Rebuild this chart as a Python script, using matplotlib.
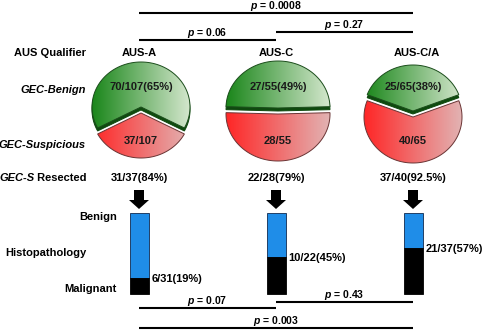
import matplotlib
matplotlib.use("Agg")
import matplotlib.pyplot as plt
import numpy as np
from matplotlib.patches import Polygon
from matplotlib.colors import LinearSegmentedColormap

plt.rcParams['font.family'] = ['Liberation Sans', 'DejaVu Sans']
plt.rcParams['mathtext.fontset'] = 'custom'
plt.rcParams['mathtext.bfit'] = 'Liberation Sans:italic:bold'
plt.rcParams['mathtext.rm'] = 'Liberation Sans:bold'

# data
groups = ["AUS-A", "AUS-C", "AUS-C/A"]
gec_total = [107, 55, 65]
gec_benign = [70, 27, 25]
gec_susp = [37, 28, 40]
benign_pct = ["65%", "49%", "38%"]
resected = [31, 22, 37]
resected_pct = ["84%", "79%", "92.5%"]
malignant = [6, 10, 21]
malignant_pct = ["19%", "45%", "57%"]
top_p = [("0.06", 0, 1), ("0.27", 1, 2), ("0.0008", 0, 2)]
bottom_p = [("0.07", 0, 1), ("0.43", 1, 2), ("0.003", 0, 2)]

# layout (pixel coordinates)
col_x = [139, 276, 413]
pie_cx = [141, 278, 413]
pie_cy = [110, 111, 114]
pie_rx = [49, 52, 49]
pie_ry = [45, 47, 46]
bar_top, bar_bot, bar_w = 213, 294, 19

green_cm = LinearSegmentedColormap.from_list("g", ["#1a861a", "#d4e7cd"])
red_cm = LinearSegmentedColormap.from_list("r", ["#ff2626", "#e2b3b3"])
FS = 8


def wedge(cx, cy, rx, ry, t1, t2):
    t = np.radians(np.linspace(t1, t2, 120))
    pts = np.column_stack([cx + rx * np.cos(t), cy - ry * np.sin(t)])
    return np.vstack([[cx, cy], pts])


def grad_wedge(ax, pts, cx, rx, cy, ry, cmap, edge):
    poly = Polygon(pts, closed=True, facecolor='none', edgecolor=edge, lw=0.7, zorder=3)
    ax.add_patch(poly)
    im = ax.imshow(np.linspace(0, 1, 256).reshape(1, -1), cmap=cmap, aspect='auto',
                   extent=(cx - rx, cx + rx, cy + ry + 8, cy - ry - 8), zorder=2)
    im.set_clip_path(poly)


fig = plt.figure(figsize=(4.82, 3.31), dpi=100, facecolor='white')
ax = fig.add_axes([0, 0, 1, 1])

for i in range(3):
    cx, cy, rx, ry = pie_cx[i], pie_cy[i], pie_rx[i], pie_ry[i]
    half = 180.0 * gec_benign[i] / gec_total[i]
    g1, g2 = 90 - half, 90 + half
    gy, ry_ = cy - 3, cy + 3
    # dark green thickness under the benign wedge
    ax.add_patch(Polygon(wedge(cx, gy + 3, rx, ry, g1, g2), closed=True,
                         facecolor='#0e4a0e', edgecolor='#0e4a0e', lw=0.7, zorder=1.5))
    grad_wedge(ax, wedge(cx, gy, rx, ry, g1, g2), cx, rx, gy, ry, green_cm, '#1b4d1b')
    grad_wedge(ax, wedge(cx, ry_, rx, ry, g2, g1 + 360), cx, rx, ry_, ry, red_cm, '#6a3434')
    ax.text(cx, 87, "%d/%d(%s)" % (gec_benign[i], gec_total[i], benign_pct[i]),
            ha='center', va='center', fontsize=FS, weight='bold', color='#1a1a1a', zorder=5)
    ax.text(cx, 141, "%d/%d" % (gec_susp[i], gec_total[i]),
            ha='center', va='center', fontsize=FS, weight='bold', color='#1a1a1a', zorder=5)

    ax.text(col_x[i] + (4 if i == 2 else 0), 52.5, groups[i], ha='center', va='center',
            fontsize=FS, weight='bold')
    ax.text(col_x[i], 178, "%d/%d(%s)" % (resected[i], gec_susp[i], resected_pct[i]),
            ha='center', va='center', fontsize=FS, weight='bold')

    # arrow
    ax.arrow(col_x[i], 190, 0, 19, width=10, head_width=20, head_length=9,
             length_includes_head=True, color='black', lw=0)

    # histopathology bar
    h = bar_bot - bar_top
    hm = h * malignant[i] / resected[i]
    ax.bar(col_x[i], h - hm, bottom=bar_top, width=bar_w, color='#1f8de8',
           edgecolor='#102a50', lw=0.6, zorder=3)
    ax.bar(col_x[i], hm, bottom=bar_bot - hm, width=bar_w, color='black',
           edgecolor='black', lw=0.6, zorder=3)
    ax.text(col_x[i] + bar_w / 2 + 3, bar_bot - hm + 1,
            "%d/%d(%s)" % (malignant[i], resected[i], malignant_pct[i]),
            ha='left', va='center', fontsize=FS, weight='bold')

# p-value brackets
top_y = {(0, 1): 40, (1, 2): 32, (0, 2): 13}
bot_y = {(0, 1): 308, (1, 2): 302, (0, 2): 328}
for plist, ymap in ((top_p, top_y), (bottom_p, bot_y)):
    for p, a, b in plist:
        y = ymap[(a, b)]
        ax.plot([col_x[a], col_x[b]], [y, y], color='black', lw=1.5, solid_capstyle='butt')
        ax.text((col_x[a] + col_x[b]) / 2, y - 7, r"$\mathbfit{p}$ = " + p,
                ha='center', va='center', fontsize=7.5, weight='bold')

# row labels
ax.text(86, 53, "AUS Qualifier", ha='right', va='center', fontsize=FS, weight='bold')
ax.text(86, 90, "GEC-Benign", ha='right', va='center', fontsize=FS, weight='bold', style='italic')
ax.text(86, 145, "GEC-Suspicious", ha='right', va='center', fontsize=FS, weight='bold', style='italic')
t_res = ax.text(87, 178, " Resected", ha='right', va='center', fontsize=FS, weight='bold')
ax.annotate("GEC-S", xy=(0, 0.5), xycoords=t_res, ha='right', va='center',
            fontsize=FS, weight='bold', style='italic')
ax.text(117, 217, "Benign", ha='right', va='center', fontsize=FS, weight='bold')
ax.text(86, 253, "Histopathology", ha='right', va='center', fontsize=FS, weight='bold')
ax.text(117, 289, "Malignant", ha='right', va='center', fontsize=FS, weight='bold')

ax.set_xlim(0, 482)
ax.set_ylim(331, 0)
ax.axis('off')
fig.savefig("out.png", dpi=100, facecolor='white')
